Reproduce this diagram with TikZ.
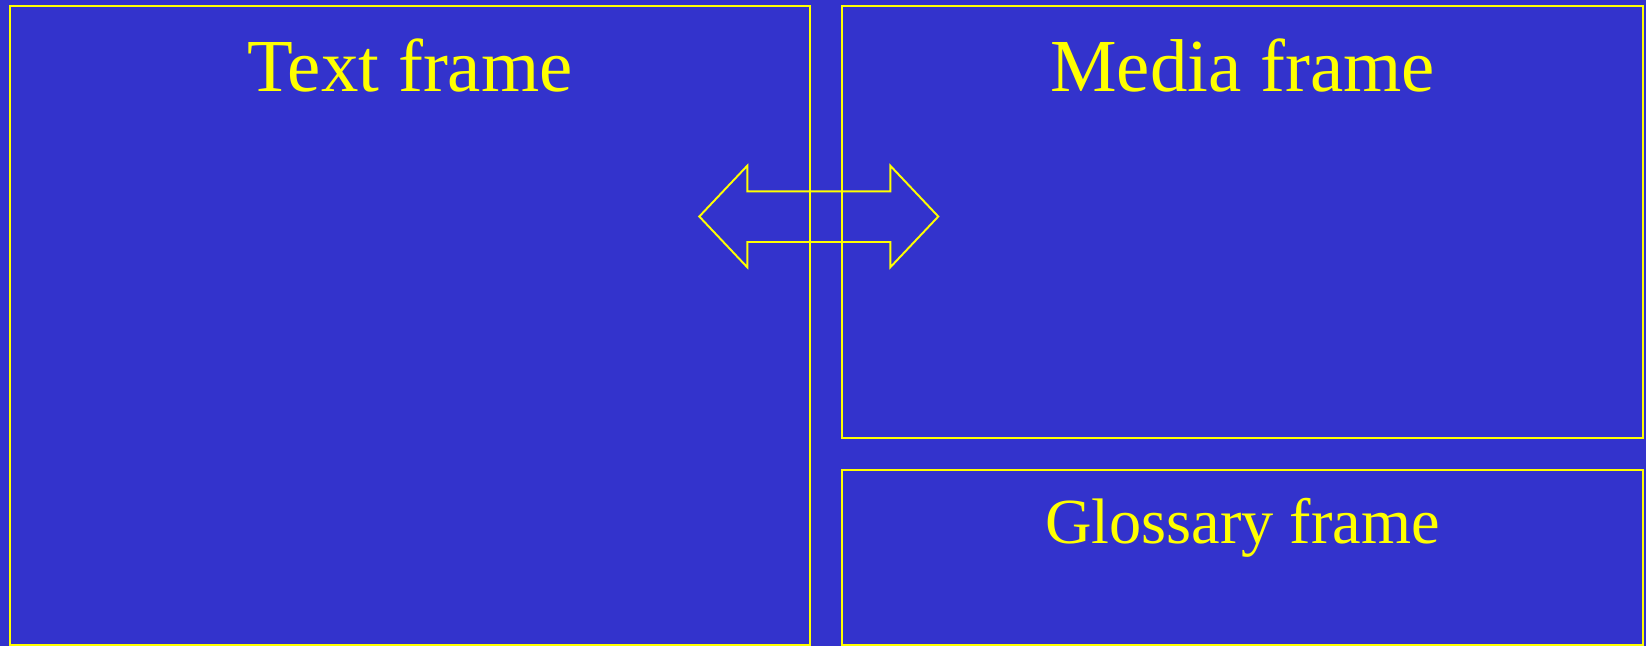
\documentclass[tikz,border=0pt]{standalone}
\usepackage{fontspec}
\setmainfont{Liberation Serif}
\usetikzlibrary{positioning}
\definecolor{slideblue}{HTML}{3333CC}
\definecolor{slideyellow}{HTML}{FFFF00}

\begin{document}
\begin{tikzpicture}[
			x=0.1mm,y=-0.1mm,
			frame/.style={draw=slideyellow,line width=0.55pt,inner sep=0pt,outer sep=0pt},
			title/.style={text=slideyellow,anchor=base,inner sep=0pt,font=\fontsize{21.3}{25}\selectfont},
			twoway/.style={draw=slideyellow,line width=0.55pt,line join=miter}]
			\fill[slideblue] (0,0) rectangle (1646,646);
			\useasboundingbox (0,0) rectangle (1646,646);
			% the three frames
			\node[frame,minimum width=80mm,minimum height=63.9mm] (textframe) at (410,325.5) {};
			\node[frame,minimum width=80.1mm,minimum height=43.17mm] (mediaframe) at (1242.5,221.85) {};
			\node[frame,minimum width=80.1mm,minimum height=17.5mm] (glossframe) at (1242.5,557.5) {};
			\node[title] (textlabel) at ([yshift=-8.5mm]textframe.north) {Text frame};
			\node[title] (medialabel) at ([yshift=-8.5mm]mediaframe.north) {Media frame};
			\node[title,font=\fontsize{18.3}{22}\selectfont] (glosslabel) at ([yshift=-7.3mm]glossframe.north) {Glossary frame};
			% two-way arrow between text and media
			\draw[twoway] (699.3,216.5) -- (747.3,165.7) -- (747.3,191.3) -- (890.3,191.3)
			-- (890.3,165.7) -- (938.3,216.5) -- (890.3,267.3) -- (890.3,242)
			-- (747.3,242) -- (747.3,267.3) -- cycle;
		\end{tikzpicture}
\end{document}
